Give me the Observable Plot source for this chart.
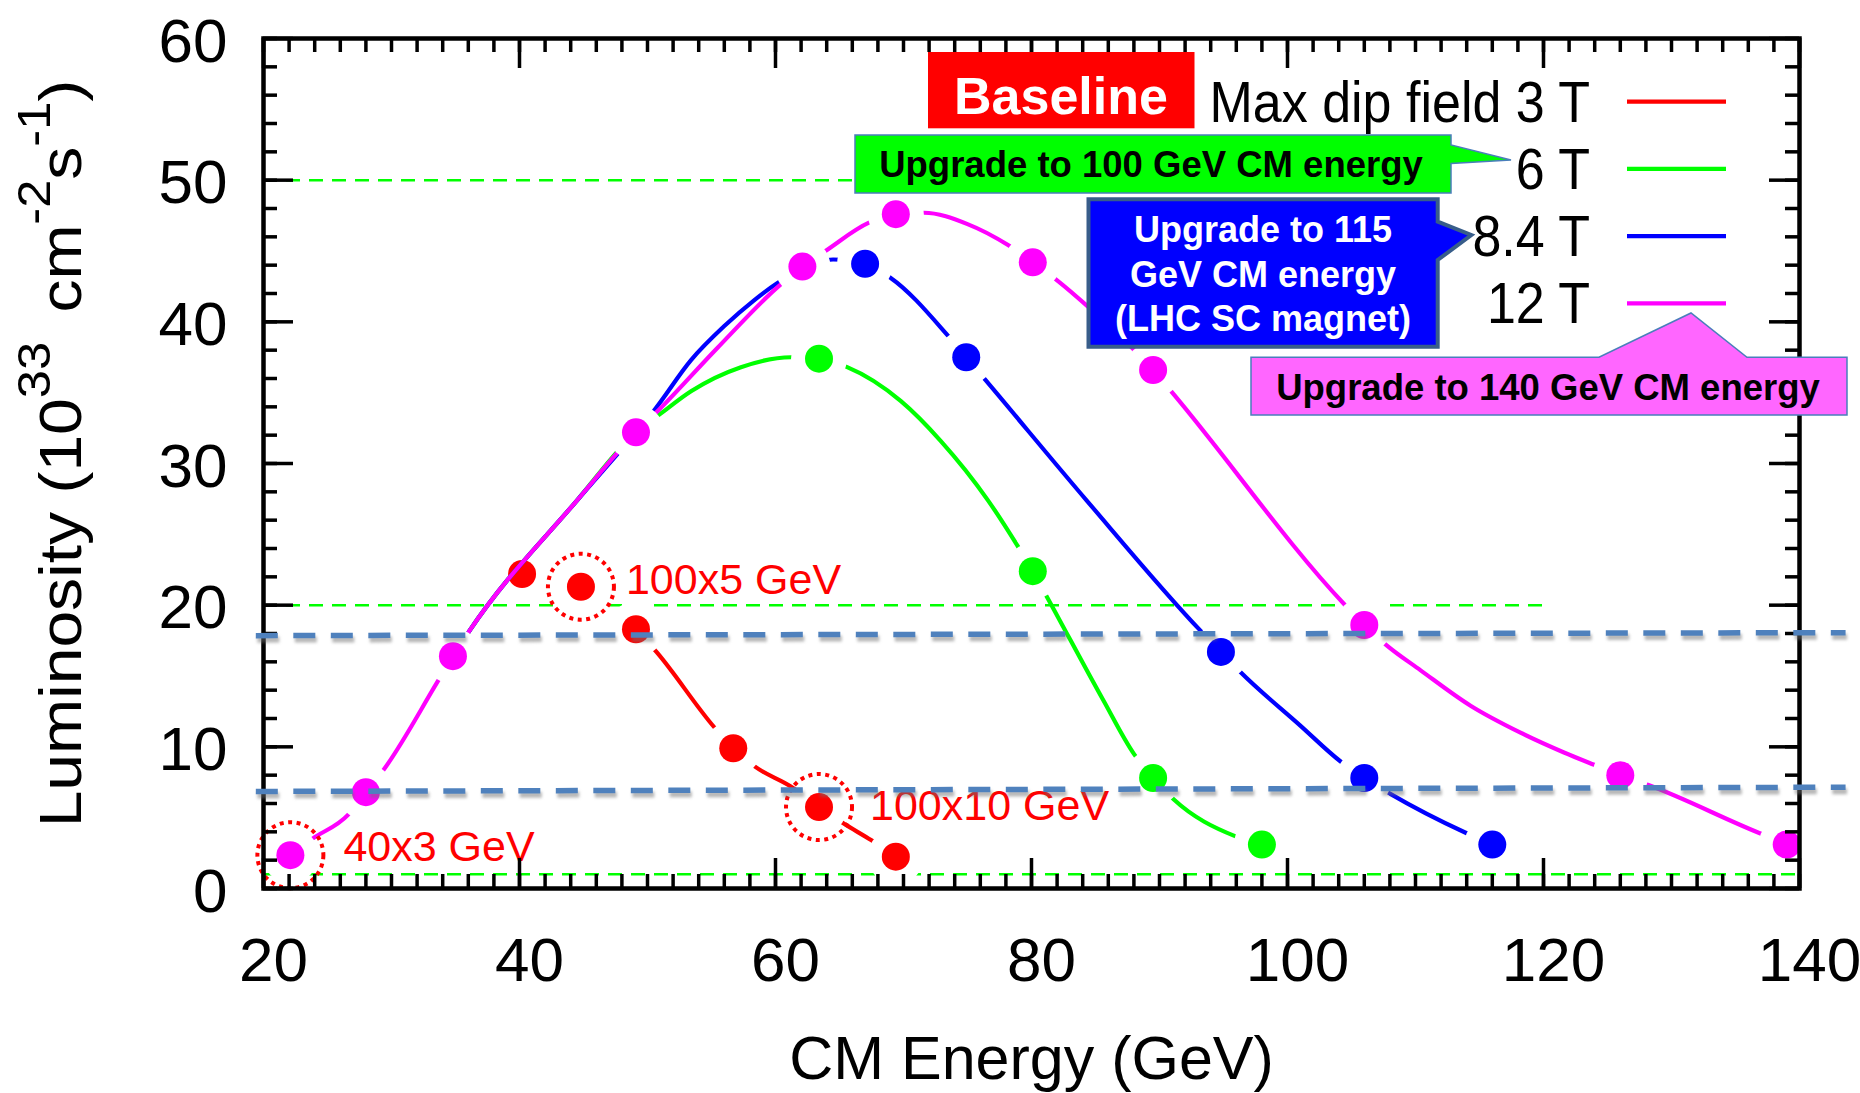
<!DOCTYPE html>
<html>
<head>
<meta charset="utf-8">
<script src="https://cdn.jsdelivr.net/npm/d3@7"></script>
<script src="https://cdn.jsdelivr.net/npm/@observablehq/plot@0.6"></script>
<style>
html,body{margin:0;padding:0;background:#fff;}
svg{display:block;}
</style>
</head>
<body>
<div id="chart"></div>
<script>
// ---------------- data ----------------
const xTicks = [20, 40, 60, 80, 100, 120, 140];
const yTicks = [0, 10, 20, 30, 40, 50, 60];

const seriesNames = ["Max dip field 3 T", "6 T", "8.4 T", "12 T"];
const seriesColors = ["#ff0000", "#00ff00", "#0000ff", "#ff00ff"];

// 3 T
const t3MarkE = [40.2, 44.8, 49.1, 56.7, 63.4, 69.4];
const t3MarkL = [22.2, 21.3, 18.3, 9.9, 5.75, 2.25];
const t3LineE = [49.1, 50.7, 55.2, 56.7, 58.4, 61.2, 63.4, 65.3, 67.5, 69.4];
const t3LineL = [18.3, 16.7, 11.4, 9.9, 8.6, 7.2, 5.75, 4.6, 3.4, 2.25];

// 6 T
const t6MarkE = [63.4, 80.1, 89.5, 98.0];
const t6MarkL = [37.4, 22.4, 7.8, 3.1];
const t6LineE = [34.8, 36.1, 44.5, 49.1, 51.0, 53.4, 57.3, 61.2, 63.4, 65.6, 69.8, 72.9, 76.6, 78.9, 80.1, 81.2, 85.6, 88.0, 89.5, 91.1, 95.9, 98.0];
const t6LineL = [16.4, 18.2, 27.4, 32.2, 33.5, 35.1, 36.8, 37.5, 37.4, 36.8, 34.4, 31.6, 27.4, 24.2, 22.4, 20.6, 13.3, 9.5, 7.8, 6.3, 3.7, 3.1];

// 8.4 T
const t84MarkE = [67.0, 74.9, 94.8, 106.0, 116.0];
const t84MarkL = [44.1, 37.5, 16.7, 7.8, 3.1];
const t84LineE = [34.8, 36.1, 44.5, 49.1, 50.6, 53.4, 56.0, 58.3, 60.1, 64.5, 67.0, 69.0, 73.4, 74.9, 76.4, 84.3, 93.2, 94.8, 96.3, 101.0, 104.1, 106.0, 108.0, 114.0, 116.0];
const t84LineL = [16.4, 18.2, 27.4, 32.2, 33.85, 37.3, 39.7, 41.5, 42.7, 44.4, 44.1, 43.1, 39.1, 37.5, 35.9, 27.4, 18.2, 16.7, 15.3, 11.5, 9.0, 7.8, 6.7, 3.9, 3.1];

// 12 T
const t12MarkE = [22.1, 28.0, 34.8, 49.1, 62.1, 69.4, 80.1, 89.5, 106.0, 126.0, 139.0];
const t12MarkL = [2.35, 6.8, 16.4, 32.2, 43.9, 47.6, 44.2, 36.6, 18.6, 8.0, 3.1];
const t12LineE = [22.1, 23.8, 26.6, 28.0, 29.4, 33.6, 34.8, 36.1, 44.5, 49.1, 50.8, 55.4, 60.1, 62.1, 63.9, 67.3, 69.4, 71.6, 75.0, 78.2, 80.1, 81.9, 84.5, 89.5, 91.0, 104.4, 106.0, 107.7, 110.4, 114.3, 118.2, 121.6, 123.9, 126.0, 128.2, 136.9, 139.0];
const t12LineL = [2.35, 3.5, 5.2, 6.8, 8.4, 14.6, 16.4, 18.2, 27.4, 32.2, 33.7, 38.1, 42.4, 43.9, 45.0, 47.0, 47.6, 47.7, 46.9, 45.4, 44.2, 43.0, 41.0, 36.6, 35.0, 20.1, 18.6, 17.2, 15.4, 12.9, 11.0, 9.6, 8.75, 8.0, 7.3, 3.9, 3.15];

// circled points and their labels
const circledE = [44.8, 63.4, 22.1];
const circledL = [21.3, 5.75, 2.35];
const circledLabels = ["100x5 GeV", "100x10 GeV", "40x3 GeV"];

// thin green dashed reference levels
const greenRefL = [50, 20, 1];
const greenRefFromE = [20, 20, 20];
const greenRefToE = [66.3, 120, 140];

// thick blue dashed reference levels
const blueRefFromE = [19.4, 19.4];
const blueRefToE = [143.6, 143.6];
const blueRefFromL = [17.85, 6.85];
const blueRefToL = [18.06, 7.15];

const xTitle = "CM Energy (GeV)";
const calloutTexts = {
  baseline: "Baseline",
  green: "Upgrade to 100 GeV CM energy",
  blue: ["Upgrade to 115", "GeV CM energy", "(LHC SC magnet)"],
  magenta: "Upgrade to 140 GeV CM energy"
};

// ---------------- layout ----------------
const FONT = "'Liberation Sans', Arial, Helvetica, sans-serif";
const W = 1860, H = 1093;
const mL = 263, mR = 61, mT = 38, mB = 205;
const innerW = W - mL - mR;
const innerH = H - mT - mB;

const rows = (xs, ys) => xs.map((x, i) => ({x, y: ys[i]}));

const series = [
  {lx: t3LineE, ly: t3LineL, mx: t3MarkE, my: t3MarkL, color: seriesColors[0]},
  {lx: t6LineE, ly: t6LineL, mx: t6MarkE, my: t6MarkL, color: seriesColors[1]},
  {lx: t84LineE, ly: t84LineL, mx: t84MarkE, my: t84MarkL, color: seriesColors[2]},
  {lx: t12LineE, ly: t12LineL, mx: t12MarkE, my: t12MarkL, color: seriesColors[3]}
];

const greenRefs = greenRefL.map((y, i) => ({y, x1: greenRefFromE[i], x2: greenRefToE[i]}));
const blueRefs = blueRefFromE.map((x1, i) => ({x1, x2: blueRefToE[i], y1: blueRefFromL[i], y2: blueRefToL[i]}));
const circled = circledE.map((x, i) => ({x, y: circledL[i], label: circledLabels[i]}));
const labelOffsets = [[45, 7], [51, 13], [53, 6]];

const xMinor = d3.range(20, 141, 2);
const yMinor = d3.range(0, 61, 2);

const marks = [];
marks.push(Plot.ruleY(greenRefs, {y: "y", x1: "x1", x2: "x2", stroke: "#00ff00", strokeWidth: 2.5, strokeDasharray: "14,9"}));

for (const s of series) {
  marks.push(Plot.line(rows(s.lx, s.ly), {x: "x", y: "y", stroke: s.color, strokeWidth: 4.2, curve: "monotone-x"}));
  marks.push(Plot.dot(rows(s.mx, s.my), {x: "x", y: "y", r: 28, fill: "white", stroke: "none"}));
  marks.push(Plot.dot(rows(s.mx, s.my), {x: "x", y: "y", r: 14, fill: s.color, stroke: "none"}));
}

marks.push(Plot.dot(circled, {x: "x", y: "y", r: 33, fill: "none", stroke: "#ff0000", strokeWidth: 4, strokeDasharray: "4,4.5"}));
circled.forEach((d, i) => {
  marks.push(Plot.text([d], {x: "x", y: "y", text: "label", dx: labelOffsets[i][0], dy: labelOffsets[i][1],
    textAnchor: "start", lineAnchor: "bottom", fontSize: 43, fill: "#ff0000", fontFamily: FONT}));
});

const tk = {stroke: "#000", strokeWidth: 3.5};
marks.push(
  Plot.tickX(xMinor, {x: d => d, insetTop: innerH - 14, ...tk}),
  Plot.tickX(xMinor, {x: d => d, insetBottom: innerH - 14, ...tk}),
  Plot.tickX(xTicks, {x: d => d, insetTop: innerH - 30, ...tk}),
  Plot.tickX(xTicks, {x: d => d, insetBottom: innerH - 30, ...tk}),
  Plot.tickY(yMinor, {y: d => d, insetRight: innerW - 14, ...tk}),
  Plot.tickY(yMinor, {y: d => d, insetLeft: innerW - 14, ...tk}),
  Plot.tickY(yTicks, {y: d => d, insetRight: innerW - 30, ...tk}),
  Plot.tickY(yTicks, {y: d => d, insetLeft: innerW - 30, ...tk}),
  Plot.frame({stroke: "#000", strokeWidth: 4.5}),
  Plot.text(xTicks, {x: d => d, text: d => String(d), frameAnchor: "bottom", dy: 92, dx: 10, lineAnchor: "bottom",
    textAnchor: "middle", fontSize: 62, fill: "#000", fontFamily: FONT}),
  Plot.text(yTicks, {y: d => d, text: d => String(d), frameAnchor: "left", dx: -36, dy: 23, lineAnchor: "bottom",
    textAnchor: "end", fontSize: 62, fill: "#000", fontFamily: FONT}),
  Plot.text([xTitle], {text: d => d, frameAnchor: "bottom", dy: 190, lineAnchor: "bottom", textAnchor: "middle",
    fontSize: 61, fill: "#000", fontFamily: FONT}),
  Plot.link(blueRefs, {x1: "x1", y1: "y1", x2: "x2", y2: "y2", stroke: "#6f6f6f", strokeOpacity: 0.5, strokeWidth: 6,
    strokeDasharray: "22,15.5", dx: 1.5, dy: 4, imageFilter: "blur(1.5px)"}),
  Plot.link(blueRefs, {x1: "x1", y1: "y1", x2: "x2", y2: "y2", stroke: "#4f81bd", strokeWidth: 5.5,
    strokeDasharray: "22,15.5"})
);

const svg = Plot.plot({
  width: W, height: H,
  marginLeft: mL, marginRight: mR, marginTop: mT, marginBottom: mB,
  x: {domain: [20, 140], axis: null},
  y: {domain: [0, 60], axis: null},
  style: {fontFamily: FONT, background: "white", overflow: "visible"},
  marks
});

// ---------------- overlays: axis title with superscripts, legend, callouts ----------------
const ov = d3.select(svg).append("g").attr("font-family", FONT);

const yt = ov.append("text")
  .attr("transform", "translate(81,453.5) rotate(-90) scale(1.1,1)")
  .attr("text-anchor", "middle").attr("font-size", 60).attr("fill", "#000");
yt.append("tspan").text("Luminosity (10");
yt.append("tspan").attr("font-size", 46).attr("dy", -31).text("33");
yt.append("tspan").attr("dy", 31).attr("dx", 10).text(" cm");
yt.append("tspan").attr("font-size", 46).attr("dy", -31).text("-2");
yt.append("tspan").attr("dy", 31).text("s");
yt.append("tspan").attr("font-size", 46).attr("dy", -31).text("-1");
yt.append("tspan").attr("dy", 31).text(")");

// legend
seriesNames.forEach((name, i) => {
  const cy = 101.7 + i * 67.2;
  ov.append("line").attr("x1", 1627).attr("x2", 1726).attr("y1", cy).attr("y2", cy)
    .attr("stroke", seriesColors[i]).attr("stroke-width", 4.2);
  ov.append("text").attr("transform", `translate(1590,${cy + 20}) scale(1,1.1)`)
    .attr("text-anchor", "end").attr("font-size", 52).attr("fill", "#000").text(name);
});

// Baseline box
ov.append("rect").attr("x", 928).attr("y", 52).attr("width", 266.5).attr("height", 76.3).attr("fill", "#ff0000");
ov.append("text").attr("x", 1061).attr("y", 113.5).attr("text-anchor", "middle").attr("font-size", 52)
  .attr("font-weight", "bold").attr("fill", "#fff").text(calloutTexts.baseline);

// green callout
ov.append("path").attr("d", "M855,135 H1451 V145 L1511,160 L1451,163.5 V193 H855 Z")
  .attr("fill", "#00ff00").attr("stroke", "#4a7ebb").attr("stroke-width", 1.5);
ov.append("text").attr("x", 1151).attr("y", 177).attr("text-anchor", "middle").attr("font-size", 36.5)
  .attr("font-weight", "bold").attr("fill", "#000").text(calloutTexts.green);

// blue callout
ov.append("path").attr("d", "M1088.5,199.3 H1437.7 V221.7 L1471.3,235 L1437.7,260 V346.7 H1088.5 Z")
  .attr("fill", "#0000ff").attr("stroke", "#385d8a").attr("stroke-width", 4);
calloutTexts.blue.forEach((t, i) => {
  ov.append("text").attr("x", 1263).attr("y", 242 + i * 44.5).attr("text-anchor", "middle").attr("font-size", 36)
    .attr("font-weight", "bold").attr("fill", "#fff").text(t);
});

// magenta callout
ov.append("path").attr("d", "M1251,357.3 H1599 L1691,313 L1747,357.3 H1847 V415 H1251 Z")
  .attr("fill", "#ff66ff").attr("stroke", "#4a7ebb").attr("stroke-width", 1.5);
ov.append("text").attr("x", 1548).attr("y", 400).attr("text-anchor", "middle").attr("font-size", 36.5)
  .attr("font-weight", "bold").attr("fill", "#000").text(calloutTexts.magenta);

document.getElementById("chart").appendChild(svg);
</script>
</body>
</html>
